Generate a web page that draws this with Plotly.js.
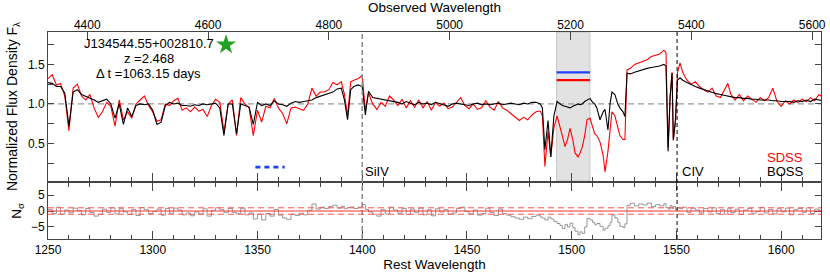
<!DOCTYPE html>
<html><head><meta charset="utf-8">
<script src="https://cdn.plot.ly/plotly-3.0.1.min.js"></script>
<style>body{margin:0;background:#fff}#plot{width:830px;height:278px}</style>
</head><body><div id="plot"></div>
<script>
const redshift = 2.468;
const objName = "J134544.55+002810.7";
const deltaT = "1063.15";

const rest = [
 1250,1252,1254,1256,1258,1260,1262,1264,1266,1268,
 1270,1272,1274,1276,1278,1280,1282,1284,1286,1288,
 1290,1292,1294,1296,1298,1300,1302,1304,1306,1308,
 1310,1312,1314,1316,1318,1320,1322,1324,1326,1328,
 1330,1332,1334,1336,1338,1340,1342,1344,1346,1348,
 1350,1352,1354,1356,1358,1360,1362,1364,1366,1368,
 1370,1372,1374,1376,1378,1380,1382,1384,1386,1388,
 1390,1391.5,1393,1394.5,1396,1398,1400,1401.5,1403,1405,
 1407,1409,1411,1413,1415,1417,1419,1421,1423,1425,
 1427,1429,1431,1433,1435,1437,1439,1441,1443,1445,
 1447,1449,1451,1453,1455,1457,1459,1461,1463,1465,
 1467,1469,1471,1473,1475,1477,1479,1481,1483,1485,
 1486,1487.2,1488.7,1490,1491.5,1493,1494.4,1495.5,1496.8,1498,
 1499.2,1500.5,1501.6,1503,1504,1505,1506.2,1507.3,1508.7,1510,
 1511,1512,1513.5,1515,1515.9,1517.3,1518.3,1519.2,1520.6,1522,
 1523,1524.5,1525.4,1526.4,1528,1530,1532,1534,1536,1538,
 1540,1542,1544,1545,1546,1547,1547.9,1548.5,1549.5,1550.5,
 1551.7,1553,1555,1557,1559,1561,1563,1565,1567,1569,
 1571,1573,1574.5,1576,1578,1580,1582,1584,1586,1588,
 1590,1592,1594,1596,1598,1600,1602,1604,1606,1608,
 1610,1612,1614,1616,1618,1620
];

const boss = [
 1.27,1.26,1.22,1.22,1.14,0.72,1.15,1.18,1.12,1.10,
 1.08,1.05,1.02,1.04,1.06,1.00,0.82,1.00,0.74,0.95,
 0.84,0.98,1.00,0.99,1.00,0.92,0.74,0.77,0.98,1.02,
 1.00,1.01,0.98,0.98,0.97,0.99,0.98,1.00,0.99,1.00,
 1.01,0.95,0.60,1.00,1.00,0.62,1.00,0.98,0.96,0.74,
 1.02,0.98,1.00,0.98,1.04,1.00,0.99,0.97,1.01,1.03,
 1.02,1.03,1.04,1.05,1.08,1.10,1.12,1.13,1.15,1.19,
 1.20,1.05,0.80,1.18,1.22,1.24,1.22,0.86,1.16,1.08,
 1.07,1.06,1.05,1.04,1.03,1.02,1.00,1.03,1.01,0.99,
 1.02,1.00,1.01,0.99,1.02,1.00,0.98,0.97,1.00,1.01,
 1.00,0.99,0.98,1.00,1.01,0.99,1.00,0.99,1.00,1.01,
 0.99,1.00,1.01,1.00,0.99,1.01,1.00,1.02,1.02,1.00,
 0.95,0.42,0.79,0.33,0.85,1.03,1.00,0.98,0.97,0.96,
 0.95,0.97,0.98,1.00,0.99,1.00,1.03,1.05,1.07,1.02,
 1.00,0.95,0.80,0.90,0.93,0.67,1.00,1.15,1.12,1.00,
 0.95,0.90,0.84,1.39,1.38,1.40,1.42,1.43,1.45,1.46,
 1.47,1.48,1.50,1.48,0.40,1.10,1.39,0.54,0.80,1.30,
 1.33,1.30,1.27,1.24,1.22,1.20,1.18,1.16,1.14,1.13,
 1.12,1.11,1.10,1.09,1.08,1.08,1.07,1.07,1.06,1.06,
 1.05,1.05,1.05,1.04,1.04,1.03,1.03,1.03,1.02,1.04,
 1.03,1.05,1.03,1.06,1.05,1.04
];

const sdss = [
 1.32,1.37,1.24,1.26,1.10,0.66,1.20,1.25,1.10,1.05,
 1.12,0.95,0.83,0.90,1.02,0.97,0.72,1.05,0.80,0.90,
 0.82,1.00,1.05,1.10,0.98,0.90,0.78,0.80,1.00,0.98,
 1.04,1.07,0.92,0.95,0.90,0.96,0.91,0.93,0.84,0.98,
 1.06,1.02,0.65,1.00,1.05,0.60,1.08,1.00,0.95,0.60,
 0.92,0.77,0.97,0.95,1.07,0.95,0.88,0.75,0.95,0.96,
 0.94,0.92,1.00,1.20,1.10,1.15,1.15,1.18,1.27,1.24,
 1.28,1.12,0.85,1.28,1.30,1.32,1.36,0.92,1.14,1.00,
 0.93,1.02,0.97,1.10,1.05,0.98,1.06,0.95,1.04,0.96,
 1.05,0.95,1.03,0.92,1.02,0.97,1.01,0.94,0.96,1.02,
 1.08,0.98,0.94,1.00,0.93,0.95,1.04,0.96,0.92,1.03,
 0.95,0.92,0.88,0.84,0.79,0.83,0.80,0.86,0.90,0.91,
 0.85,0.21,0.65,0.33,0.70,0.85,0.69,0.60,0.46,0.55,
 0.69,0.55,0.38,0.33,0.38,0.45,0.60,0.80,0.82,0.70,
 0.62,0.60,0.52,0.35,0.14,0.40,0.70,0.90,0.85,0.70,
 0.60,0.55,0.55,1.43,1.45,1.50,1.52,1.55,1.56,1.60,
 1.62,1.63,1.68,1.65,0.45,1.10,1.40,0.55,0.75,1.40,
 1.52,1.40,1.30,1.25,1.28,1.22,1.18,1.15,1.20,1.10,
 1.08,1.18,1.26,1.12,1.05,1.12,1.04,1.10,1.06,1.02,
 1.08,1.04,1.08,1.20,1.03,0.97,1.04,1.00,1.05,1.02,
 1.06,1.03,1.08,1.04,1.12,1.08
];

const nsig = [
 0.5,-0.8,1.2,-1.0,0.3,-0.6,0.9,0.2,-1.2,0.8,
 -0.5,-1.6,-1.0,0.6,-0.4,1.0,-0.9,0.7,-0.3,-1.1,
 0.5,-1.4,1.1,0.4,-0.8,-0.2,0.6,-1.3,0.8,-0.7,
 0.9,0.3,-1.2,-0.6,-1.5,-0.3,-1.0,0.7,-1.6,0.2,
 1.0,0.4,-0.5,0.8,-0.4,-0.9,0.9,-1.2,-0.6,-2.5,
 -1.0,-2.8,-0.8,-1.6,0.5,-1.3,-2.2,-2.6,-1.0,-1.4,
 -0.7,-1.2,0.2,2.2,0.6,1.2,0.8,1.4,1.8,0.9,
 1.5,0.7,1.1,1.3,0.8,1.2,2.0,0.5,-0.3,-1.0,
 -1.6,0.4,-0.9,1.2,0.3,-0.7,0.8,-1.1,0.6,-0.5,
 0.9,-1.2,0.4,-1.5,0.7,-0.3,0.5,-1.0,-0.6,0.8,
 1.2,-0.2,-0.9,0.3,-1.3,-0.8,0.9,-0.5,-1.4,0.6,
 -0.8,-1.3,-1.8,-2.2,-2.6,-1.9,-2.4,-1.7,-1.3,-1.9,
 -2.2,-2.8,-1.9,-2.5,-3.3,-3.9,-4.5,-5.5,-4.2,-5.0,
 -3.8,-5.2,-6.3,-7.4,-6.5,-7.0,-5.0,-2.3,-2.8,-3.5,
 -4.3,-3.9,-4.8,-6.0,-5.4,-4.6,-3.5,-1.2,-2.2,-3.6,
 -4.8,-5.2,-4.0,1.8,2.4,1.6,2.2,1.9,2.5,1.4,
 2.0,1.6,2.3,1.1,0.6,1.7,0.8,1.4,0.5,1.0,
 0.7,1.2,-0.4,0.9,0.3,-0.6,0.8,-0.3,1.0,-0.8,
 0.4,-1.0,0.9,-0.5,0.6,-1.1,0.3,0.8,-0.7,-0.2,
 1.1,-0.6,0.5,-0.9,0.7,-0.3,0.9,-1.2,0.4,0.8,
 -0.4,1.0,-0.8,0.6,0.2,0.9
];

const restRange = [1250, 1619];
const troughBand = [1492.8, 1508.7];
const troughLevelBOSS = 1.40;
const troughLevelSDSS = 1.30;
const starPoint = {x: [1335], y: [1.75]};
const blueDashX = [1349, 1363];
const blueDashY = [0.2, 0.2];
const lineSiIV = 1400;
const lineCIV = 1550.3;
const obsTicks = [4400, 4600, 4800, 5000, 5200, 5400, 5600];

const FONT = 'Liberation Sans, Arial, Helvetica, sans-serif';
const obsRange = restRange.map(v => v * (1 + redshift));

const traces = [
  {x: rest, y: nsig, xaxis: 'x', yaxis: 'y', mode: 'lines', line: {color: '#8c8c8c', width: 0.9, shape: 'hv'}, hoverinfo: 'skip'},
  {x: rest, y: sdss, xaxis: 'x2', yaxis: 'y2', mode: 'lines', line: {color: '#ff0000', width: 1.1}, name: 'SDSS'},
  {x: rest, y: boss, xaxis: 'x2', yaxis: 'y2', mode: 'lines', line: {color: '#000000', width: 1.1}, name: 'BOSS'},
  {x: troughBand, y: [troughLevelBOSS, troughLevelBOSS], xaxis: 'x2', yaxis: 'y2', mode: 'lines', line: {color: '#1f3fff', width: 2.2}},
  {x: troughBand, y: [troughLevelSDSS, troughLevelSDSS], xaxis: 'x2', yaxis: 'y2', mode: 'lines', line: {color: '#ff0000', width: 2.2}},
  {x: blueDashX, y: blueDashY, xaxis: 'x2', yaxis: 'y2', mode: 'lines', line: {color: '#1f3fff', width: 2.6, dash: '5px,4px'}},
  {x: starPoint.x, y: starPoint.y, xaxis: 'x2', yaxis: 'y2', mode: 'markers', marker: {symbol: 'star', size: 15, color: '#22a022', line: {width: 0}}},
  {x: obsRange, y: [1, 1], xaxis: 'x3', yaxis: 'y2', mode: 'lines', line: {width: 0, color: 'rgba(0,0,0,0)'}, hoverinfo: 'skip'}
];

const axisCommon = {
  showline: true, linecolor: '#444', linewidth: 1, ticks: 'inside', tickcolor: '#444',
  tickfont: {family: FONT, size: 12, color: '#000'}, showgrid: false, zeroline: false
};

const layout = {
  width: 830, height: 278,
  margin: {l: 48, r: 9, t: 32, b: 39},
  paper_bgcolor: '#fff', plot_bgcolor: 'rgba(0,0,0,0)',
  showlegend: false,
  font: {family: FONT, size: 12, color: '#000'},
  xaxis: Object.assign({}, axisCommon, {
    domain: [0, 1], anchor: 'y', range: restRange, dtick: 50, tick0: 0, ticklen: 8, mirror: 'ticks',
    minor: {dtick: 10, ticks: 'inside', ticklen: 4, tickcolor: '#444'},
    title: {text: 'Rest Wavelength', font: {family: FONT, size: 13.5}, standoff: 2}
  }),
  yaxis: Object.assign({}, axisCommon, {
    domain: [0, 0.2705], anchor: 'x', range: [-8.75, 8.75], dtick: 5, tick0: 0, ticklen: 6, mirror: 'ticks',
    title: {text: 'N<sub>σ</sub>', font: {family: FONT, size: 13.5}, standoff: 6}
  }),
  xaxis2: Object.assign({}, axisCommon, {
    domain: [0, 1], anchor: 'y2', matches: 'x', range: restRange, dtick: 50, tick0: 0, ticklen: 8, mirror: true,
    showticklabels: false,
    minor: {dtick: 10, ticks: 'inside', ticklen: 4, tickcolor: '#444'}
  }),
  xaxis3: Object.assign({}, axisCommon, {
    overlaying: 'x2', anchor: 'y2', side: 'top', range: obsRange, tickvals: obsTicks, ticklen: 8,
    showline: false,
    title: {text: 'Observed Wavelength', font: {family: FONT, size: 13.5}, standoff: 2}
  }),
  yaxis2: Object.assign({}, axisCommon, {
    domain: [0.2802, 1], anchor: 'x2', range: [0.025, 1.91], dtick: 0.5, tick0: 0, tickformat: '.1f', ticklen: 6, mirror: 'ticks',
    minor: {dtick: 0.25, ticks: 'inside', ticklen: 6, tickcolor: '#444'},
    title: {text: 'Normalized Flux Density F<sub>λ</sub>', font: {family: FONT, size: 14}, standoff: 6}
  }),
  shapes: [
    {type: 'rect', xref: 'x2', yref: 'y2 domain', x0: troughBand[0], x1: troughBand[1], y0: 0, y1: 1,
     fillcolor: '#e2e2e2', line: {color: '#c6c6c6', width: 1}, layer: 'below'},
    {type: 'line', xref: 'x2 domain', yref: 'y2', x0: 0, x1: 1, y0: 1, y1: 1,
     line: {color: '#9a9a9a', width: 1.3, dash: '6px,4px'}, layer: 'below'},
    {type: 'line', xref: 'x', yref: 'paper', x0: lineSiIV, x1: lineSiIV, y0: 0, y1: 1,
     line: {color: '#8a8a8a', width: 1.5, dash: '5px,3px'}},
    {type: 'line', xref: 'x', yref: 'paper', x0: lineCIV, x1: lineCIV, y0: 0, y1: 1,
     line: {color: '#000', width: 1, dash: '4px,3px'}},
    {type: 'line', xref: 'x domain', yref: 'y', x0: 0, x1: 1, y0: 0, y1: 0,
     line: {color: '#ff3030', width: 1}},
    {type: 'line', xref: 'x domain', yref: 'y', x0: 0, x1: 1, y0: 1, y1: 1,
     line: {color: '#ff5050', width: 1, dash: '6px,4px'}},
    {type: 'line', xref: 'x domain', yref: 'y', x0: 0, x1: 1, y0: -1, y1: -1,
     line: {color: '#ff5050', width: 1, dash: '6px,4px'}}
  ],
  annotations: [
    {xref: 'x2', yref: 'y2', x: 1298.2, y: 1.76, text: objName, showarrow: false, xanchor: 'center', yanchor: 'middle', font: {family: FONT, size: 13}},
    {xref: 'x2', yref: 'y2', x: 1298.2, y: 1.58, text: 'z =' + redshift.toFixed(3), showarrow: false, xanchor: 'center', yanchor: 'middle', font: {family: FONT, size: 13}},
    {xref: 'x2', yref: 'y2', x: 1298.2, y: 1.39, text: 'Δ t =' + deltaT + ' days', showarrow: false, xanchor: 'center', yanchor: 'middle', font: {family: FONT, size: 13}},
    {xref: 'x2', yref: 'y2', x: lineSiIV + 0.5, y: 0.14, text: 'SiIV', showarrow: false, xanchor: 'left', yanchor: 'middle', font: {family: FONT, size: 13}},
    {xref: 'x2', yref: 'y2', x: lineCIV + 1.5, y: 0.14, text: 'CIV', showarrow: false, xanchor: 'left', yanchor: 'middle', font: {family: FONT, size: 13}},
    {xref: 'x2', yref: 'y2', x: 1611.3, y: 0.32, text: 'SDSS', showarrow: false, xanchor: 'right', yanchor: 'middle', font: {family: FONT, size: 13, color: '#ff0000'}},
    {xref: 'x2', yref: 'y2', x: 1611.3, y: 0.14, text: 'BOSS', showarrow: false, xanchor: 'right', yanchor: 'middle', font: {family: FONT, size: 13, color: '#000'}}
  ]
};

Plotly.newPlot('plot', traces, layout, {staticPlot: true, displayModeBar: false});
</script>
</body></html>
